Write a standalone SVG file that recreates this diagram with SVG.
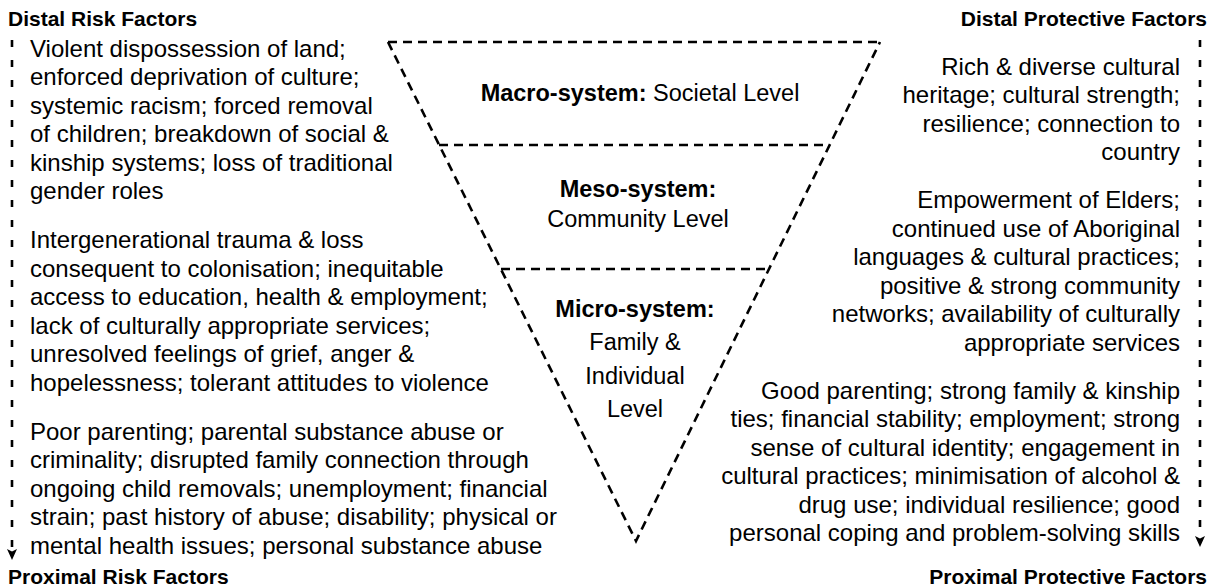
<svg xmlns="http://www.w3.org/2000/svg" width="1216" height="588" viewBox="0 0 1216 588">
  <style>
    .head { font-family: "Liberation Sans", Arial, sans-serif; font-size: 21px; font-weight: bold; fill: #000; }
    .body { font-family: "Liberation Sans", Arial, sans-serif; font-size: 24px; fill: #000; }
    .lvl { font-family: "Liberation Sans", Arial, sans-serif; font-size: 23.5px; fill: #000; text-anchor: middle; }
    .b { font-weight: bold; }
    .tri { fill: none; stroke: #000; stroke-width: 2.6; stroke-dasharray: 9 6; }
    .axis { fill: none; stroke: #000; stroke-width: 2.6; stroke-dasharray: 7 13; }
    .tip { fill: #000; }
  </style>
  <rect width="1216" height="588" fill="#fff"/>

  <!-- side axes running from distal to proximal -->
  <g id="connectors">
    <path class="axis" d="M12,40 V552"/>
    <path class="tip" d="M7,549 L12,551.5 L17,549 L12,560 Z"/>
    <path class="axis" d="M1200,40 V539"/>
    <path class="tip" d="M1195,536 L1200,538.5 L1205,536 L1200,547 Z"/>
  </g>

  <!-- nested system levels -->
  <g id="levels">
    <path class="tri" d="M388,42 L880,42 M388,42 L636,541 L880,42"/>
    <path class="tri" d="M439,145 L829,145"/>
    <path class="tri" d="M501,269 L769,269"/>
  </g>

  <g id="macro" class="lvl">
    <text x="640" y="101"><tspan class="b">Macro-system:</tspan> Societal Level</text>
  </g>
  <g id="meso" class="lvl">
    <text x="638" y="197" class="b">Meso-system:</text>
    <text x="638" y="227">Community Level</text>
  </g>
  <g id="micro" class="lvl">
    <text x="635" y="317" class="b">Micro-system:</text>
    <text x="635" y="350">Family &amp;</text>
    <text x="635" y="384">Individual</text>
    <text x="635" y="417">Level</text>
  </g>

  <g id="risk-headings">
    <text class="head" x="8" y="26">Distal Risk Factors</text>
    <text class="head" x="8" y="584">Proximal Risk Factors</text>
  </g>
  <g id="protective-headings">
    <text class="head" x="1207" y="26" text-anchor="end">Distal Protective Factors</text>
    <text class="head" x="1207" y="584" text-anchor="end">Proximal Protective Factors</text>
  </g>

  <g id="risk-distal" class="body">
    <text x="30" y="56.5">Violent dispossession of land;</text>
    <text x="30" y="85">enforced deprivation of culture;</text>
    <text x="30" y="113.5">systemic racism; forced removal</text>
    <text x="30" y="142">of children; breakdown of social &amp;</text>
    <text x="30" y="170.5">kinship systems; loss of traditional</text>
    <text x="30" y="199">gender roles</text>
  </g>
  <g id="risk-meso" class="body">
    <text x="30" y="248">Intergenerational trauma &amp; loss</text>
    <text x="30" y="276.5">consequent to colonisation; inequitable</text>
    <text x="30" y="305">access to education, health &amp; employment;</text>
    <text x="30" y="333.5">lack of culturally appropriate services;</text>
    <text x="30" y="362">unresolved feelings of grief, anger &amp;</text>
    <text x="30" y="390.5">hopelessness; tolerant attitudes to violence</text>
  </g>
  <g id="risk-proximal" class="body">
    <text x="30" y="439.5">Poor parenting; parental substance abuse or</text>
    <text x="30" y="468">criminality; disrupted family connection through</text>
    <text x="30" y="496.5">ongoing child removals; unemployment; financial</text>
    <text x="30" y="525">strain; past history of abuse; disability; physical or</text>
    <text x="30" y="553.5">mental health issues; personal substance abuse</text>
  </g>

  <g id="protect-distal" class="body" text-anchor="end">
    <text x="1180" y="74.5">Rich &amp; diverse cultural</text>
    <text x="1180" y="103">heritage; cultural strength;</text>
    <text x="1180" y="131.5">resilience; connection to</text>
    <text x="1180" y="160">country</text>
  </g>
  <g id="protect-meso" class="body" text-anchor="end">
    <text x="1180" y="208">Empowerment of Elders;</text>
    <text x="1180" y="236.5">continued use of Aboriginal</text>
    <text x="1180" y="265">languages &amp; cultural practices;</text>
    <text x="1180" y="293.5">positive &amp; strong community</text>
    <text x="1180" y="322">networks; availability of culturally</text>
    <text x="1180" y="350.5">appropriate services</text>
  </g>
  <g id="protect-proximal" class="body" text-anchor="end">
    <text x="1180" y="398.5">Good parenting; strong family &amp; kinship</text>
    <text x="1180" y="427">ties; financial stability; employment; strong</text>
    <text x="1180" y="455.5">sense of cultural identity; engagement in</text>
    <text x="1180" y="484">cultural practices; minimisation of alcohol &amp;</text>
    <text x="1180" y="512.5">drug use; individual resilience; good</text>
    <text x="1180" y="541">personal coping and problem-solving skills</text>
  </g>
</svg>
